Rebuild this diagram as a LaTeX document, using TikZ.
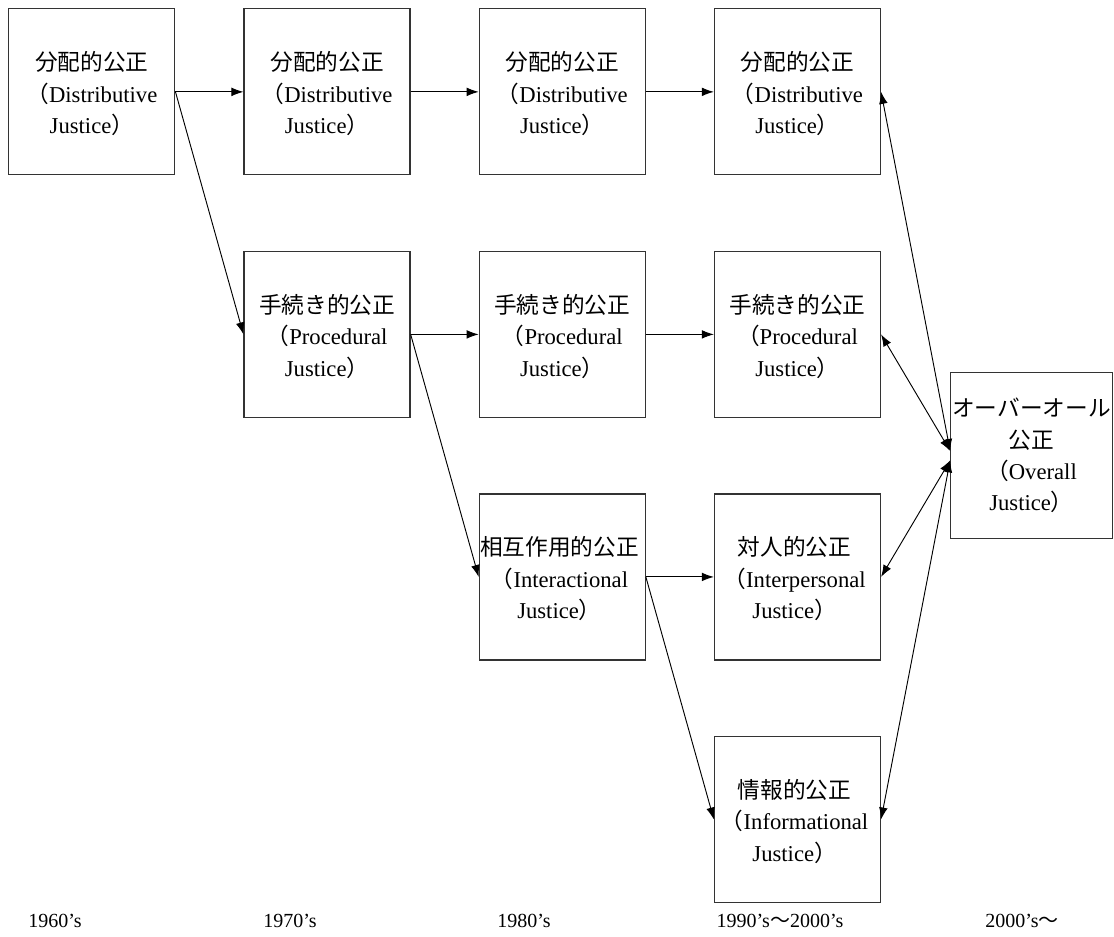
\documentclass[tikz,border=0pt]{standalone}
\usepackage{fontspec}
\setmainfont{Liberation Serif}
\newfontfamily\jpfont{Noto Sans CJK JP}
\newcommand\jt[1]{{\jpfont #1}}
\newcommand\threel[3]{\raisebox{-3pt}[\height][\depth]{\begin{tabular}{@{}c@{}}#1\\#2\\#3\end{tabular}}}
\newcommand\distj{\threel{\jt{分配的公正}}{\jt{（}Distributive}{Justice\jt{）}}}
\newcommand\procj{\threel{\jt{手続き的公正}}{\jt{（}Procedural}{Justice\jt{）}}}
\usetikzlibrary{matrix,calc,arrows.meta}

\begin{document}
\begin{tikzpicture}[
every node/.style={inner sep=1pt, font=\fontsize{17}{23.5}\selectfont},
box/.style={draw=black!80, line width=0.9pt, inner sep=0pt, minimum width=124.5pt,
    minimum height=124.5pt, align=center},
>={Latex[length=9pt,width=6.5pt]}
]
\useasboundingbox (0,0) rectangle (835.5pt,-702pt);

\matrix (m) [matrix of nodes, column sep=51pt, row sep=56.5pt, nodes={box},
    anchor=north west, inner sep=0pt, ampersand replacement=\&] at (6pt,-6pt) {
\distj \& \distj \& \distj \& \distj \\
 \& \procj \& \procj \& \procj \\
 \& \& \threel{\jt{相互作用的公正}}{\jt{（}Interactional}{Justice\jt{）}} \& \threel{\jt{対人的公正}}{\jt{（}Interpersonal}{Justice\jt{）}} \\
 \& \& \& \threel{\jt{情報的公正}}{\jt{（}Informational}{Justice\jt{）}} \\
};

\node[box, minimum width=121pt] (all) at ([xshift=175.5pt]$(m-2-4)!.5!(m-3-4)$)
    {\jt{オーバーオール}\\\jt{公正}\\\jt{（}Overall\\Justice\jt{）}};

\foreach \i/\j in {
                    1-1/1-2, 1-2/1-3, 1-3/1-4,
                    2-2/2-3, 2-3/2-4,
                    3-3/3-4,
                    1-1/2-2, 2-2/3-3, 3-3/4-4%
            }
    \draw [->, line width=0.7pt] (m-\i.east) -- (m-\j.west);

\foreach \i/\s in {1/3.5, 2/3.5, 3/-3.5, 4/-3.5}
    \draw [<->, line width=0.7pt] (m-\i-4.east) -- ([yshift=\s pt]all.west);

% years
\foreach \x/\t [count=\n] in {41.25/1960's, 217.5/1970's, 393/1980's,
                              585/1990's\jt{〜}2000's, 766.5/2000's\jt{〜}}
    \node[font=\fontsize{15}{17}\selectfont] (year\n) at (\x pt,-690.75pt) {\t};

\end{tikzpicture}
\end{document}
